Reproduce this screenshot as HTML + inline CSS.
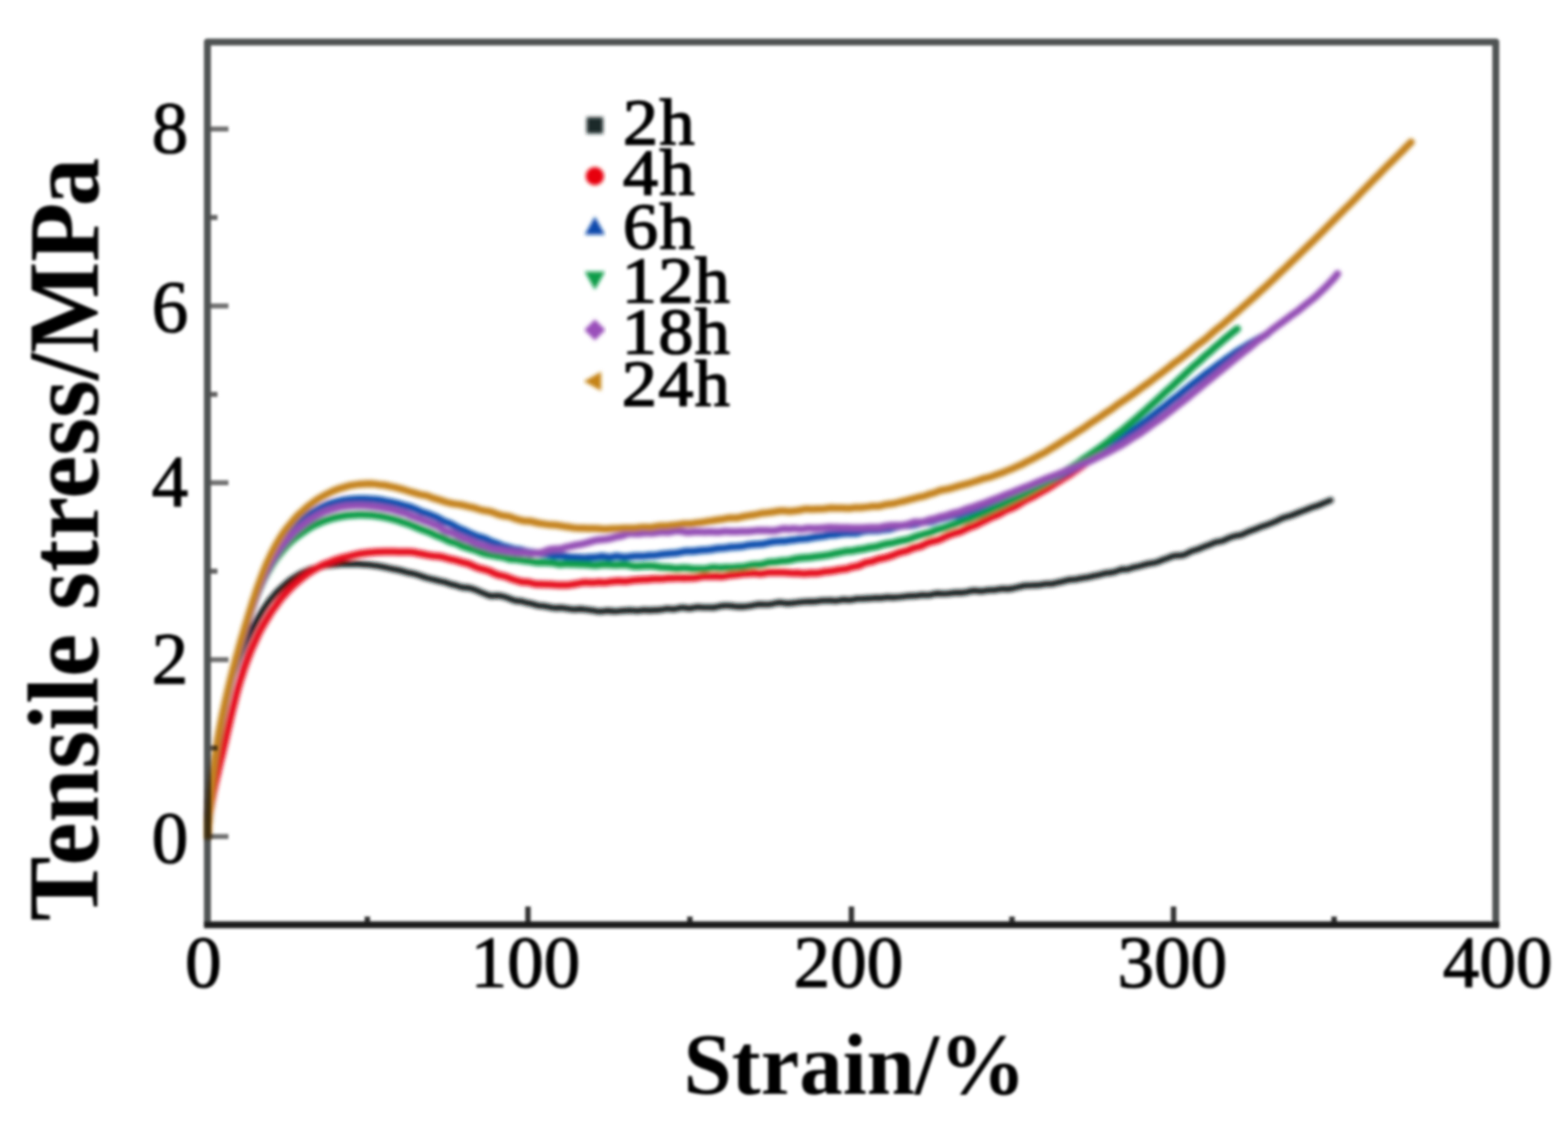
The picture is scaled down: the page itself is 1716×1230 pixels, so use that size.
<!DOCTYPE html>
<html lang="en">
<head>
<meta charset="utf-8">
<title>Tensile stress vs strain</title>
<style>
html,body{margin:0;padding:0;background:#fff;}
body{width:1716px;height:1230px;overflow:hidden;}
svg{display:block;}
text{font-family:"Liberation Serif","DejaVu Serif",serif;fill:#000;}
.b{font-weight:bold;}
</style>
</head>
<body>
<svg width="1716" height="1230" viewBox="0 0 1716 1230">
<defs>
<filter id="bl" x="-5%" y="-5%" width="110%" height="110%"><feGaussianBlur stdDeviation="2.1"/></filter>
<filter id="bt" x="-5%" y="-5%" width="110%" height="110%"><feGaussianBlur stdDeviation="1.4"/></filter>
<filter id="bm" x="-5%" y="-5%" width="110%" height="110%"><feGaussianBlur stdDeviation="2.0"/></filter>
<filter id="bf" x="-5%" y="-5%" width="110%" height="110%"><feGaussianBlur stdDeviation="1.7"/></filter>
</defs>
<rect x="0" y="0" width="1716" height="1230" fill="#ffffff"/>
<g filter="url(#bf)" fill="none" stroke-linecap="butt">
<line x1="227" y1="915.4" x2="250" y2="915.4" stroke="#707070" stroke-width="5.5"/>
<line x1="227" y1="721.9" x2="250" y2="721.9" stroke="#707070" stroke-width="5.5"/>
<line x1="227" y1="528.3" x2="250" y2="528.3" stroke="#707070" stroke-width="5.5"/>
<line x1="227" y1="334.8" x2="250" y2="334.8" stroke="#707070" stroke-width="5.5"/>
<line x1="227" y1="141.2" x2="250" y2="141.2" stroke="#707070" stroke-width="5.5"/>
<line x1="227" y1="818.6" x2="238" y2="818.6" stroke="#606060" stroke-width="5.5"/>
<line x1="227" y1="625.1" x2="238" y2="625.1" stroke="#606060" stroke-width="5.5"/>
<line x1="227" y1="431.6" x2="238" y2="431.6" stroke="#606060" stroke-width="5.5"/>
<line x1="227" y1="238.0" x2="238" y2="238.0" stroke="#606060" stroke-width="5.5"/>
<line x1="577.8" y1="1012" x2="577.8" y2="992" stroke="#333" stroke-width="6"/>
<line x1="931.8" y1="1012" x2="931.8" y2="992" stroke="#333" stroke-width="6"/>
<line x1="1284.3" y1="1012" x2="1284.3" y2="992" stroke="#333" stroke-width="6"/>
<line x1="402" y1="1012" x2="402" y2="1003" stroke="#333" stroke-width="6"/>
<line x1="755" y1="1012" x2="755" y2="1003" stroke="#333" stroke-width="6"/>
<line x1="1107.5" y1="1012" x2="1107.5" y2="1003" stroke="#333" stroke-width="6"/>
<line x1="1460" y1="1012" x2="1460" y2="1003" stroke="#333" stroke-width="6"/>
<path d="M227,1012 L227,46 L1637,46 L1637,1012" stroke="#505252" stroke-width="7.6" stroke-linejoin="round"/>
<line x1="223.2" y1="1012" x2="1640.8" y2="1012" stroke="#1c1c1c" stroke-width="7.4"/>
</g>
<clipPath id="cp"><rect x="224" y="40" width="1420" height="975"/></clipPath>
<g style="mix-blend-mode:multiply" filter="url(#bl)"><g clip-path="url(#cp)" fill="none" stroke-linecap="round" stroke-linejoin="round">
<path d="M227.5,915.0 L227.7,911.1 L228.0,907.2 L228.3,903.3 L228.5,899.2 L228.8,895.1 L229.1,891.0 L229.4,886.9 L229.7,882.8 L230.0,878.8 L230.4,874.9 L230.7,870.9 L231.1,867.0 L231.5,863.1 L231.9,859.1 L232.3,855.1 L232.7,851.1 L233.2,846.9 L233.6,842.9 L234.1,839.0 L234.6,835.0 L235.2,831.0 L235.7,827.1 L236.3,823.2 L236.9,819.2 L237.5,815.2 L238.2,811.3 L238.8,807.2 L239.5,803.3 L240.3,799.3 L241.0,795.5 L241.8,791.5 L242.6,787.7 L243.5,783.7 L244.3,779.6 L245.2,775.7 L246.2,772.0 L247.1,768.2 L248.1,764.4 L249.2,760.4 L250.2,756.5 L251.3,752.6 L252.5,748.7 L253.6,744.9 L254.8,741.2 L256.1,737.3 L257.4,733.6 L258.7,729.9 L260.0,726.0 L261.4,722.1 L262.8,718.3 L264.3,714.6 L265.8,710.7 L267.3,706.9 L268.9,703.3 L270.5,699.8 L272.2,696.1 L273.9,692.5 L275.7,688.9 L277.5,685.4 L279.4,682.0 L281.3,678.4 L283.3,674.9 L285.4,671.5 L287.5,667.9 L289.8,664.5 L292.1,661.2 L294.4,658.0 L296.9,654.9 L299.5,651.9 L302.1,648.9 L304.9,646.0 L307.8,643.3 L310.7,640.8 L313.8,638.0 L317.0,635.3 L320.2,633.1 L323.6,631.0 L327.1,628.9 L330.6,626.9 L334.3,625.2 L338.0,623.7 L341.8,622.4 L345.6,621.5 L349.5,620.5 L353.4,619.5 L357.4,618.8 L361.4,618.4 L365.3,618.0 L369.3,617.6 L373.4,617.3 L377.4,617.3 L381.4,617.2 L385.4,617.2 L389.4,617.1 L393.4,617.3 L397.4,617.6 L401.4,617.8 L405.4,618.2 L409.4,618.8 L413.4,619.3 L417.3,620.0 L421.3,620.7 L425.2,621.6 L429.2,622.5 L433.1,623.2 L437.0,624.0 L440.9,625.0 L444.8,626.2 L448.7,627.0 L452.6,627.8 L456.5,628.9 L460.3,630.2 L464.2,631.5 L468.1,632.6 L472.0,633.6 L475.8,634.5 L479.7,635.5 L483.6,636.4 L487.4,637.2 L491.3,638.6 L495.2,639.8 L499.0,640.6 L502.9,642.0 L506.8,642.9 L510.6,643.1 L514.5,643.6 L518.4,644.7 L522.3,646.3 L526.1,648.0 L530.0,649.5 L533.9,651.2 L537.8,652.2 L541.7,651.9 L545.6,651.7 L549.5,652.4 L553.4,653.5 L557.3,654.9 L561.2,656.5 L565.1,657.6 L569.1,657.8 L573.0,658.6 L576.9,659.7 L580.9,660.3 L584.8,661.5 L588.8,662.7 L592.8,663.0 L596.7,663.4 L600.7,664.2 L604.7,665.0 L608.7,665.4 L612.6,665.1 L616.6,665.3 L620.6,665.9 L624.6,666.6 L628.6,667.1 L632.6,666.6 L636.6,666.4 L640.6,667.0 L644.6,667.5 L648.7,668.0 L652.7,668.8 L656.7,669.3 L660.7,668.8 L664.7,668.2 L668.7,668.6 L672.7,669.0 L676.7,668.7 L680.8,668.3 L684.8,668.1 L688.8,667.8 L692.8,668.0 L696.8,668.5 L700.8,668.1 L704.8,667.5 L708.8,667.9 L712.8,667.9 L716.9,667.5 L720.9,667.6 L724.9,667.1 L728.9,666.1 L732.9,666.3 L736.9,666.7 L740.9,665.9 L744.9,665.0 L748.9,664.9 L752.9,665.7 L756.9,665.6 L760.9,664.5 L765.0,664.3 L769.0,664.8 L773.0,664.8 L777.0,664.8 L781.0,664.9 L785.0,664.1 L789.0,663.1 L793.0,662.7 L797.0,662.7 L801.0,663.1 L805.0,663.7 L809.0,663.9 L813.0,663.9 L817.1,663.5 L821.1,663.0 L825.1,662.3 L829.1,661.4 L833.1,661.2 L837.1,661.5 L841.1,661.5 L845.1,660.9 L849.1,659.9 L853.1,659.3 L857.1,659.7 L861.1,660.4 L865.1,660.1 L869.1,659.7 L873.2,659.3 L877.2,658.8 L881.2,658.5 L885.2,658.3 L889.2,658.4 L893.2,658.2 L897.2,657.5 L901.2,657.3 L905.2,657.2 L909.2,657.1 L913.2,657.6 L917.2,657.3 L921.2,656.4 L925.3,656.4 L929.3,656.8 L933.3,656.2 L937.3,655.3 L941.3,655.2 L945.3,655.1 L949.3,654.9 L953.3,654.8 L957.3,654.3 L961.3,654.4 L965.3,654.4 L969.3,653.6 L973.3,653.5 L977.3,653.9 L981.4,653.5 L985.4,653.2 L989.4,652.8 L993.4,652.3 L997.4,652.1 L1001.4,652.0 L1005.4,651.6 L1009.4,651.0 L1013.4,651.2 L1017.4,651.2 L1021.4,650.1 L1025.4,649.4 L1029.4,649.6 L1033.4,649.7 L1037.4,649.5 L1041.4,649.1 L1045.4,648.6 L1049.4,648.6 L1053.4,648.6 L1057.4,648.1 L1061.4,647.0 L1065.4,646.3 L1069.4,646.6 L1073.4,647.1 L1077.4,646.6 L1081.4,645.7 L1085.4,645.7 L1089.4,645.6 L1093.4,644.7 L1097.4,644.3 L1101.4,644.6 L1105.4,644.4 L1109.4,643.6 L1113.4,642.6 L1117.4,641.7 L1121.4,640.8 L1125.3,640.7 L1129.3,640.5 L1133.3,640.4 L1137.3,640.3 L1141.3,639.6 L1145.2,639.0 L1149.2,639.0 L1153.2,638.6 L1157.2,637.4 L1161.1,636.7 L1165.1,635.7 L1169.1,634.6 L1173.0,634.3 L1177.0,634.1 L1180.9,633.3 L1184.9,632.5 L1188.8,631.9 L1192.8,631.2 L1196.7,630.2 L1200.7,629.5 L1204.6,628.7 L1208.6,627.5 L1212.5,626.9 L1216.4,626.6 L1220.3,625.8 L1224.3,624.2 L1228.2,622.9 L1232.1,623.2 L1236.0,622.5 L1239.9,620.9 L1243.8,620.3 L1247.7,619.4 L1251.6,618.2 L1255.5,617.3 L1259.3,616.4 L1263.2,615.9 L1267.1,614.9 L1270.9,613.2 L1274.8,611.9 L1278.7,610.5 L1282.5,608.9 L1286.4,608.0 L1290.2,607.9 L1294.0,607.7 L1297.9,606.3 L1301.7,604.2 L1305.5,602.6 L1309.4,601.6 L1313.2,600.2 L1317.0,598.5 L1320.8,597.1 L1324.6,595.8 L1328.4,594.1 L1332.2,592.8 L1336.0,592.5 L1339.8,591.2 L1343.6,589.3 L1347.4,587.8 L1351.2,586.5 L1354.9,585.9 L1358.7,585.3 L1362.5,583.6 L1366.3,581.8 L1370.0,580.4 L1373.8,579.1 L1377.6,577.5 L1381.3,576.0 L1385.1,574.9 L1388.8,573.5 L1392.6,572.0 L1396.3,570.5 L1400.1,568.6 L1403.8,566.8 L1407.6,565.6 L1411.3,564.7 L1415.1,563.4 L1418.8,561.9 L1422.6,560.4 L1426.3,559.0 L1430.0,557.6 L1433.8,556.0 L1437.5,554.7 L1441.2,553.6 L1445.0,552.2 L1448.7,550.5 L1452.5,549.0 L1456.2,547.5" stroke="#0c1616" stroke-width="6.6"/>
<path d="M227.5,915.0 L227.6,910.9 L227.8,906.9 L228.1,902.9 L228.5,899.0 L228.9,895.0 L229.4,890.9 L229.9,887.0 L230.5,883.1 L231.2,879.2 L231.9,875.2 L232.6,871.1 L233.4,867.1 L234.2,863.2 L235.0,859.4 L235.9,855.5 L236.7,851.6 L237.7,847.7 L238.6,843.7 L239.5,839.6 L240.5,835.6 L241.4,831.7 L242.4,827.9 L243.3,824.2 L244.3,820.2 L245.2,816.2 L246.2,812.2 L247.1,808.3 L248.0,804.3 L248.9,800.4 L249.8,796.6 L250.7,792.7 L251.6,788.8 L252.5,784.9 L253.4,780.9 L254.4,777.0 L255.3,773.2 L256.3,769.4 L257.3,765.4 L258.3,761.3 L259.3,757.3 L260.4,753.4 L261.5,749.7 L262.6,745.9 L263.8,742.1 L265.0,738.4 L266.2,734.6 L267.5,730.7 L268.9,726.9 L270.3,723.0 L271.7,719.3 L273.2,715.5 L274.7,711.7 L276.3,708.1 L277.9,704.6 L279.6,700.9 L281.3,697.2 L283.1,693.4 L284.9,689.8 L286.8,686.3 L288.8,682.9 L290.8,679.5 L292.9,676.1 L295.0,672.6 L297.2,669.2 L299.5,666.0 L301.9,662.8 L304.3,659.4 L306.8,656.1 L309.3,653.0 L312.0,650.0 L314.7,647.0 L317.5,644.1 L320.3,641.3 L323.3,638.7 L326.3,636.1 L329.4,633.4 L332.6,630.9 L335.8,628.5 L339.1,626.2 L342.5,624.1 L346.0,622.1 L349.5,620.1 L353.1,618.3 L356.8,616.8 L360.5,615.4 L364.2,613.9 L368.0,612.6 L371.9,611.3 L375.7,610.2 L379.6,609.3 L383.5,608.3 L387.5,607.3 L391.4,606.5 L395.4,605.8 L399.4,605.2 L403.4,604.8 L407.4,604.4 L411.4,604.1 L415.4,603.9 L419.4,603.8 L423.4,603.8 L427.5,603.8 L431.5,603.7 L435.5,603.9 L439.5,604.0 L443.6,604.0 L447.6,604.0 L451.6,604.2 L455.6,605.0 L459.6,605.8 L463.6,606.5 L467.5,607.4 L471.5,608.0 L475.5,608.4 L479.4,608.7 L483.4,609.3 L487.3,610.4 L491.2,611.5 L495.1,612.3 L499.0,613.2 L502.9,614.4 L506.7,615.5 L510.6,616.3 L514.4,617.6 L518.2,619.4 L522.0,621.0 L525.8,622.2 L529.6,623.2 L533.4,624.2 L537.2,625.6 L541.0,627.6 L544.8,629.0 L548.6,629.9 L552.4,630.7 L556.3,632.0 L560.1,633.6 L564.0,634.8 L567.9,636.0 L571.8,636.9 L575.8,636.9 L579.7,637.5 L583.7,638.7 L587.7,639.2 L591.7,639.2 L595.7,639.4 L599.7,639.5 L603.8,639.7 L607.8,640.0 L611.8,640.2 L615.8,640.3 L619.9,640.3 L623.9,639.9 L627.9,639.2 L631.9,638.7 L635.9,637.9 L639.9,637.3 L643.9,637.4 L648.0,637.8 L652.0,637.4 L656.0,637.0 L660.0,637.4 L664.0,637.3 L668.0,636.6 L672.0,636.2 L676.1,635.8 L680.1,635.9 L684.1,636.2 L688.1,635.7 L692.1,635.1 L696.2,634.8 L700.2,634.4 L704.2,634.3 L708.2,634.2 L712.2,633.7 L716.2,633.4 L720.3,633.6 L724.3,633.6 L728.3,633.1 L732.3,632.8 L736.3,632.8 L740.4,632.5 L744.4,632.5 L748.4,632.8 L752.4,632.6 L756.4,632.4 L760.4,632.3 L764.5,631.7 L768.5,630.8 L772.5,630.5 L776.5,630.8 L780.5,630.8 L784.5,630.6 L788.6,630.9 L792.6,630.7 L796.6,629.9 L800.6,629.2 L804.6,629.0 L808.6,628.6 L812.6,627.8 L816.6,627.7 L820.7,627.4 L824.7,627.0 L828.7,627.5 L832.7,627.9 L836.7,627.3 L840.7,626.4 L844.8,626.5 L848.8,626.6 L852.8,626.4 L856.8,626.4 L860.8,626.7 L864.9,627.1 L868.9,627.3 L872.9,627.1 L876.9,627.5 L880.9,627.8 L885.0,627.3 L889.0,627.1 L893.0,627.3 L897.0,626.8 L901.0,625.8 L905.0,625.4 L909.0,625.1 L912.9,624.5 L916.9,623.7 L920.8,623.1 L924.7,622.8 L928.5,621.8 L932.4,620.5 L936.3,619.9 L940.2,619.0 L944.1,617.2 L947.9,615.5 L951.8,614.9 L955.7,614.0 L959.5,612.4 L963.4,611.3 L967.2,610.7 L971.1,609.7 L974.9,608.4 L978.8,606.9 L982.6,605.4 L986.5,604.2 L990.3,603.4 L994.1,602.2 L997.9,600.4 L1001.8,599.1 L1005.6,598.4 L1009.4,597.1 L1013.2,595.0 L1017.0,593.3 L1020.8,592.5 L1024.5,591.7 L1028.3,590.5 L1032.1,588.7 L1035.9,586.7 L1039.6,585.3 L1043.4,583.9 L1047.1,582.8 L1050.8,582.0 L1054.6,580.2 L1058.3,578.2 L1062.0,576.7 L1065.7,575.5 L1069.4,574.0 L1073.1,572.0 L1076.8,570.1 L1080.5,568.3 L1084.1,566.5 L1087.8,565.1 L1091.4,563.7 L1095.1,561.9 L1098.7,559.7 L1102.3,557.8 L1105.9,556.4 L1109.5,555.0 L1113.1,553.2 L1116.6,550.9 L1120.2,548.6 L1123.7,546.7 L1127.3,545.0 L1130.8,543.3 L1134.3,541.3 L1137.8,539.2 L1141.3,537.3 L1144.8,535.5 L1148.2,533.3 L1151.7,531.2 L1155.1,529.0 L1158.5,526.8 L1161.9,524.6 L1165.3,522.6 L1168.6,520.6 L1172.0,518.4 L1175.3,516.0 L1178.7,513.8 L1182.0,511.5 L1185.2,509.2 L1188.5,506.8 L1191.8,504.4 L1195.0,502.0" stroke="#e6101f" stroke-width="8"/>
<path d="M227.5,915.0 L227.6,911.1 L227.7,907.1 L227.8,903.1 L228.0,899.0 L228.2,894.9 L228.5,890.7 L228.7,886.7 L229.0,882.9 L229.3,878.9 L229.7,874.9 L230.0,870.8 L230.4,866.7 L230.8,862.8 L231.3,858.9 L231.7,855.0 L232.2,851.1 L232.8,847.0 L233.3,843.0 L233.8,839.0 L234.4,835.0 L235.0,831.0 L235.6,826.9 L236.3,823.0 L237.0,819.0 L237.6,815.0 L238.3,811.1 L239.1,807.2 L239.8,803.2 L240.6,799.2 L241.3,795.3 L242.1,791.4 L243.0,787.3 L243.8,783.4 L244.6,779.5 L245.5,775.7 L246.4,771.7 L247.3,767.8 L248.2,764.0 L249.1,760.2 L250.1,756.2 L251.0,752.2 L252.0,748.4 L253.0,744.5 L254.0,740.6 L255.0,736.7 L256.0,732.6 L257.0,728.7 L258.1,724.9 L259.1,721.1 L260.2,717.2 L261.3,713.4 L262.4,709.5 L263.5,705.6 L264.5,701.9 L265.7,698.1 L266.8,694.2 L267.9,690.3 L269.0,686.5 L270.1,682.7 L271.3,678.7 L272.4,674.7 L273.6,670.9 L274.8,666.9 L276.0,663.0 L277.2,659.2 L278.5,655.6 L279.8,651.7 L281.2,647.8 L282.5,643.9 L284.0,640.3 L285.4,636.7 L287.0,633.0 L288.6,629.4 L290.2,625.7 L291.9,622.1 L293.7,618.4 L295.5,614.7 L297.4,611.1 L299.4,607.7 L301.4,604.4 L303.6,601.0 L305.8,597.6 L308.1,594.3 L310.5,591.0 L312.9,587.7 L315.5,584.6 L318.1,581.7 L320.8,578.7 L323.6,575.7 L326.5,573.0 L329.5,570.3 L332.6,567.7 L335.7,565.3 L339.0,562.9 L342.3,560.6 L345.8,558.6 L349.3,556.6 L352.9,554.7 L356.5,553.0 L360.3,551.5 L364.1,550.3 L368.0,549.3 L371.9,548.3 L375.8,547.5 L379.8,546.9 L383.8,546.5 L387.8,546.2 L391.8,546.0 L395.8,545.9 L399.8,546.1 L403.8,546.3 L407.8,546.5 L411.8,546.8 L415.8,547.3 L419.8,548.0 L423.8,548.8 L427.7,549.5 L431.6,550.3 L435.5,551.2 L439.4,552.4 L443.3,553.5 L447.1,554.4 L450.9,555.6 L454.7,557.2 L458.5,558.9 L462.2,560.6 L466.0,561.7 L469.7,562.9 L473.4,564.4 L477.0,565.7 L480.7,567.7 L484.4,570.0 L488.0,571.5 L491.7,572.6 L495.3,574.3 L498.9,576.5 L502.6,578.5 L506.2,580.0 L509.9,581.5 L513.6,583.3 L517.2,584.9 L520.9,586.4 L524.6,587.7 L528.3,588.7 L532.1,590.1 L535.8,592.1 L539.6,593.5 L543.4,594.7 L547.3,596.4 L551.1,597.9 L555.0,598.9 L558.9,599.9 L562.8,601.0 L566.7,601.6 L570.6,602.0 L574.5,603.2 L578.5,604.2 L582.4,604.5 L586.4,605.1 L590.4,605.7 L594.3,606.0 L598.3,606.6 L602.3,607.4 L606.3,608.1 L610.3,608.2 L614.3,608.2 L618.3,608.7 L622.4,609.4 L626.4,609.9 L630.4,610.1 L634.4,610.3 L638.4,610.5 L642.4,610.3 L646.5,609.9 L650.5,609.8 L654.5,609.4 L658.5,608.8 L662.5,609.3 L666.6,610.1 L670.6,609.3 L674.6,608.5 L678.6,609.1 L682.6,609.7 L686.6,609.4 L690.7,608.9 L694.7,608.6 L698.7,608.5 L702.7,608.6 L706.7,608.3 L710.7,607.8 L714.7,607.7 L718.7,607.4 L722.7,606.7 L726.7,606.3 L730.8,605.9 L734.8,605.6 L738.8,605.4 L742.8,604.8 L746.8,603.9 L750.8,603.2 L754.8,603.2 L758.8,603.3 L762.8,602.8 L766.8,602.3 L770.8,602.0 L774.8,601.8 L778.8,601.3 L782.8,600.5 L786.7,600.0 L790.7,599.8 L794.7,599.4 L798.7,598.8 L802.7,598.4 L806.7,598.3 L810.7,598.1 L814.7,597.3 L818.7,596.4 L822.7,596.1 L826.7,595.7 L830.7,595.6 L834.7,595.3 L838.7,594.4 L842.6,593.5 L846.6,592.8 L850.6,592.4 L854.6,592.3 L858.6,592.3 L862.6,591.6 L866.6,591.0 L870.6,590.7 L874.6,589.9 L878.6,589.7 L882.6,589.5 L886.6,588.8 L890.6,588.0 L894.6,587.5 L898.6,587.1 L902.5,586.5 L906.5,585.5 L910.5,585.3 L914.5,585.2 L918.5,584.4 L922.5,583.7 L926.5,583.5 L930.5,583.3 L934.5,583.4 L938.5,583.2 L942.5,582.0 L946.5,580.9 L950.5,580.5 L954.4,580.3 L958.4,580.4 L962.4,580.2 L966.4,579.6 L970.4,579.3 L974.4,578.7 L978.3,577.5 L982.3,576.4 L986.3,575.6 L990.2,575.1 L994.2,574.9 L998.2,574.5 L1002.1,573.9 L1006.1,572.7 L1010.0,571.4 L1014.0,571.2 L1017.9,571.1 L1021.9,570.1 L1025.8,568.6 L1029.7,567.5 L1033.7,566.7 L1037.6,565.6 L1041.5,564.4 L1045.4,564.1 L1049.3,563.8 L1053.2,562.3 L1057.1,560.8 L1061.0,559.9 L1064.8,559.1 L1068.7,558.3 L1072.5,557.1 L1076.4,555.8 L1080.2,554.4 L1084.0,553.0 L1087.8,551.6 L1091.6,550.3 L1095.4,549.2 L1099.2,547.8 L1103.0,546.3 L1106.7,544.9 L1110.5,543.4 L1114.2,541.8 L1117.9,540.2 L1121.6,538.8 L1125.3,537.3 L1129.0,535.7 L1132.7,534.1 L1136.3,532.5 L1140.0,530.7 L1143.6,528.9 L1147.2,527.0 L1150.9,525.4 L1154.5,523.8 L1158.0,522.0 L1161.6,520.1 L1165.2,518.1 L1168.7,516.3 L1172.3,514.5 L1175.8,512.6 L1179.3,510.6 L1182.8,508.5 L1186.3,506.3 L1189.7,504.2 L1193.2,502.2 L1196.6,500.0 L1200.1,497.9 L1203.5,496.1 L1206.9,494.0 L1210.2,491.8 L1213.6,489.5 L1217.0,487.3 L1220.3,485.1 L1223.6,482.8 L1226.9,480.5 L1230.2,478.1 L1233.5,475.7 L1236.8,473.5 L1240.0,471.2 L1243.3,468.9 L1246.5,466.5 L1249.7,463.9 L1252.9,461.6 L1256.1,459.1 L1259.3,456.5 L1262.4,454.1 L1265.6,451.5 L1268.8,449.0 L1271.9,446.6 L1275.1,444.2 L1278.2,441.6 L1281.4,439.0 L1284.5,436.6 L1287.7,434.3 L1290.8,431.8 L1294.0,429.2 L1297.1,426.6 L1300.3,424.1 L1303.4,421.7 L1306.6,419.1 L1309.8,416.7 L1312.9,414.4 L1316.1,411.8 L1319.3,409.3 L1322.5,407.0 L1325.8,404.7 L1329.0,402.3 L1332.2,399.9 L1335.5,397.6 L1338.8,395.2 L1342.1,392.7 L1345.4,390.6 L1348.7,388.3 L1352.1,385.8 L1355.4,383.6 L1358.8,381.6 L1362.2,379.6 L1365.7,377.5 L1369.1,375.5 L1372.6,373.4 L1376.1,371.5 L1379.6,369.6 L1383.1,367.7 L1386.7,365.7" stroke="#0f4fae" stroke-width="8"/>
<path d="M227.5,915.0 L227.6,910.9 L227.8,906.7 L228.0,902.6 L228.2,898.8 L228.5,895.0 L228.7,891.0 L229.0,887.0 L229.3,883.0 L229.6,879.0 L230.0,875.0 L230.3,871.0 L230.7,867.0 L231.1,863.1 L231.6,859.0 L232.0,854.9 L232.5,850.9 L233.0,846.9 L233.6,842.8 L234.1,838.9 L234.7,835.1 L235.2,831.1 L235.9,827.1 L236.5,823.1 L237.1,819.2 L237.8,815.2 L238.5,811.2 L239.2,807.1 L239.9,803.2 L240.7,799.3 L241.4,795.4 L242.2,791.4 L243.0,787.4 L243.8,783.5 L244.6,779.6 L245.5,775.8 L246.4,771.9 L247.2,767.9 L248.1,764.0 L249.1,760.1 L250.0,756.2 L250.9,752.4 L251.9,748.4 L252.9,744.4 L253.9,740.5 L254.9,736.6 L255.9,732.8 L257.0,729.0 L258.0,725.2 L259.1,721.2 L260.2,717.2 L261.2,713.4 L262.4,709.6 L263.5,705.7 L264.6,701.8 L265.7,698.0 L266.9,694.1 L268.1,690.1 L269.2,686.3 L270.4,682.5 L271.6,678.6 L272.8,674.8 L274.1,671.1 L275.3,667.3 L276.7,663.5 L278.0,659.7 L279.4,655.9 L280.8,652.1 L282.3,648.4 L283.8,644.8 L285.4,641.1 L287.1,637.4 L288.8,633.7 L290.6,630.1 L292.5,626.5 L294.5,623.1 L296.5,619.7 L298.7,616.2 L300.9,612.9 L303.2,609.7 L305.7,606.6 L308.2,603.5 L310.9,600.2 L313.6,597.2 L316.4,594.4 L319.4,591.6 L322.4,589.0 L325.5,586.6 L328.7,584.3 L332.0,581.9 L335.4,579.6 L338.8,577.4 L342.4,575.5 L345.9,573.7 L349.6,572.2 L353.3,570.6 L357.1,569.2 L360.9,568.0 L364.7,566.9 L368.7,566.0 L372.6,565.2 L376.6,564.5 L380.5,564.0 L384.5,563.7 L388.5,563.5 L392.6,563.3 L396.6,563.3 L400.6,563.4 L404.6,563.5 L408.6,563.9 L412.6,564.5 L416.6,565.0 L420.5,565.8 L424.4,566.7 L428.4,567.6 L432.2,568.6 L436.1,569.8 L439.9,571.1 L443.7,572.3 L447.5,573.6 L451.3,575.1 L455.1,576.7 L458.8,578.2 L462.5,579.7 L466.2,581.0 L469.9,582.4 L473.6,584.2 L477.3,585.9 L481.0,587.2 L484.7,588.7 L488.4,590.6 L492.1,592.4 L495.8,593.4 L499.5,594.5 L503.3,596.3 L507.0,598.0 L510.8,599.2 L514.6,600.3 L518.4,601.3 L522.3,602.8 L526.1,604.4 L530.0,605.6 L533.9,606.6 L537.8,607.4 L541.7,608.1 L545.6,608.8 L549.6,609.3 L553.5,610.3 L557.5,611.7 L561.4,612.1 L565.4,612.1 L569.4,612.9 L573.4,613.4 L577.4,613.7 L581.4,614.4 L585.3,615.2 L589.4,615.5 L593.4,615.2 L597.4,615.5 L601.4,615.7 L605.4,615.9 L609.4,617.0 L613.4,617.5 L617.4,617.1 L621.4,617.1 L625.5,617.3 L629.5,617.3 L633.5,617.4 L637.5,617.6 L641.5,617.7 L645.5,618.1 L649.6,618.6 L653.6,618.5 L657.6,617.8 L661.6,617.6 L665.6,617.7 L669.6,618.1 L673.7,618.3 L677.7,618.0 L681.7,617.7 L685.7,617.9 L689.7,618.9 L693.7,619.7 L697.8,619.8 L701.8,619.5 L705.8,619.2 L709.8,619.3 L713.8,619.2 L717.8,619.7 L721.8,620.5 L725.8,620.8 L729.9,620.9 L733.9,621.3 L737.9,621.9 L741.9,622.0 L745.9,621.6 L749.9,621.4 L753.9,621.8 L758.0,622.5 L762.0,622.6 L766.0,622.6 L770.0,622.8 L774.0,622.2 L778.1,621.2 L782.1,620.9 L786.1,621.4 L790.1,621.5 L794.1,621.1 L798.1,621.2 L802.1,621.1 L806.1,620.6 L810.1,620.4 L814.1,620.2 L818.1,619.3 L822.1,618.4 L826.1,618.1 L830.1,618.0 L834.1,617.6 L838.0,616.3 L842.0,615.2 L846.0,615.1 L850.0,614.7 L853.9,614.1 L857.9,613.7 L861.9,613.4 L865.9,612.7 L869.9,611.7 L873.8,610.9 L877.8,610.6 L881.8,610.3 L885.8,610.1 L889.8,609.5 L893.7,608.9 L897.7,608.6 L901.7,608.0 L905.7,607.4 L909.7,606.7 L913.6,605.7 L917.6,605.0 L921.6,604.2 L925.5,603.3 L929.5,603.0 L933.5,602.7 L937.4,601.8 L941.4,601.2 L945.3,600.8 L949.3,599.7 L953.2,599.0 L957.2,598.6 L961.1,597.6 L965.0,596.3 L969.0,595.3 L972.9,594.7 L976.8,594.1 L980.7,593.2 L984.6,592.1 L988.5,591.4 L992.4,590.7 L996.3,589.5 L1000.1,588.0 L1004.0,586.6 L1007.9,585.5 L1011.7,584.3 L1015.6,583.5 L1019.4,582.2 L1023.3,580.5 L1027.1,579.2 L1030.9,578.3 L1034.7,577.2 L1038.5,575.7 L1042.3,574.4 L1046.1,573.1 L1049.9,571.7 L1053.7,570.5 L1057.4,569.4 L1061.2,568.1 L1064.9,566.5 L1068.7,564.9 L1072.4,563.6 L1076.1,562.1 L1079.8,560.3 L1083.5,558.7 L1087.2,556.9 L1090.9,555.2 L1094.5,553.7 L1098.2,552.2 L1101.8,550.4 L1105.5,548.7 L1109.1,546.9 L1112.7,545.1 L1116.3,543.4 L1119.9,541.7 L1123.5,539.9 L1127.0,537.9 L1130.6,536.1 L1134.1,534.1 L1137.7,532.1 L1141.2,530.3 L1144.7,528.4 L1148.2,526.4 L1151.6,524.3 L1155.1,522.1 L1158.5,520.0 L1162.0,518.0 L1165.4,515.9 L1168.8,513.7 L1172.2,511.6 L1175.6,509.5 L1178.9,507.4 L1182.3,505.0 L1185.6,502.6 L1188.9,500.3 L1192.3,498.1 L1195.5,495.9 L1198.8,493.6 L1202.1,491.2 L1205.3,488.9 L1208.5,486.6 L1211.7,484.1 L1214.9,481.5 L1218.1,478.9 L1221.2,476.5 L1224.4,474.0 L1227.5,471.6 L1230.6,469.0 L1233.7,466.4 L1236.8,463.8 L1239.8,461.1 L1242.9,458.6 L1245.9,456.0 L1248.9,453.3 L1251.9,450.6 L1254.9,448.0 L1257.9,445.2 L1260.9,442.6 L1263.9,439.9 L1266.8,437.2 L1269.8,434.5 L1272.8,431.7 L1275.7,428.9 L1278.7,426.2 L1281.6,423.7 L1284.6,421.0 L1287.5,418.2 L1290.4,415.5 L1293.4,412.8 L1296.3,410.0 L1299.3,407.1 L1302.3,404.3 L1305.2,401.6 L1308.2,399.0 L1311.2,396.5 L1314.2,393.8 L1317.1,391.0 L1320.1,388.3 L1323.2,385.8 L1326.2,383.2 L1329.2,380.4 L1332.3,377.8 L1335.3,375.2 L1338.4,372.5 L1341.5,369.9 L1344.6,367.4 L1347.7,364.8 L1350.8,362.3 L1354.0,359.9" stroke="#0a9c48" stroke-width="8"/>
<path d="M227.5,915.0 L227.6,910.8 L227.7,906.9 L227.9,903.1 L228.0,899.1 L228.2,895.1 L228.5,891.1 L228.7,887.0 L229.0,882.9 L229.3,879.0 L229.6,875.0 L230.0,870.9 L230.4,866.9 L230.8,863.0 L231.2,859.0 L231.7,854.9 L232.2,850.8 L232.7,846.9 L233.2,843.1 L233.8,839.1 L234.4,835.2 L235.0,831.3 L235.6,827.4 L236.2,823.4 L236.9,819.3 L237.6,815.3 L238.3,811.3 L239.0,807.3 L239.8,803.3 L240.5,799.5 L241.3,795.6 L242.1,791.6 L243.0,787.6 L243.8,783.6 L244.6,779.8 L245.5,776.0 L246.4,772.1 L247.3,768.0 L248.2,764.1 L249.2,760.2 L250.1,756.2 L251.1,752.3 L252.1,748.5 L253.1,744.7 L254.1,740.8 L255.1,737.0 L256.1,733.0 L257.2,729.1 L258.2,725.3 L259.3,721.5 L260.3,717.6 L261.4,713.7 L262.5,709.9 L263.6,706.0 L264.7,702.2 L265.8,698.3 L267.0,694.5 L268.1,690.7 L269.3,686.7 L270.4,682.8 L271.6,678.9 L272.7,675.1 L273.9,671.2 L275.1,667.4 L276.4,663.7 L277.7,660.0 L279.0,656.0 L280.3,652.0 L281.7,648.3 L283.1,644.6 L284.6,640.9 L286.2,637.3 L287.8,633.8 L289.4,630.0 L291.1,626.3 L292.9,622.8 L294.8,619.2 L296.7,615.7 L298.8,612.2 L300.9,608.8 L303.1,605.4 L305.3,601.9 L307.7,598.7 L310.2,595.8 L312.7,592.7 L315.3,589.5 L318.1,586.5 L320.9,583.6 L323.8,580.9 L326.7,578.3 L329.8,575.8 L333.0,573.4 L336.2,570.9 L339.5,568.6 L342.9,566.6 L346.4,564.6 L350.0,562.6 L353.6,560.9 L357.3,559.4 L361.1,558.1 L365.0,557.0 L368.8,555.9 L372.8,554.9 L376.7,554.2 L380.7,553.7 L384.7,553.4 L388.7,553.3 L392.7,553.2 L396.7,553.2 L400.7,553.4 L404.7,553.8 L408.7,554.2 L412.7,554.7 L416.7,555.3 L420.6,556.0 L424.6,556.7 L428.5,557.5 L432.4,558.6 L436.2,559.8 L440.1,560.9 L443.9,561.9 L447.7,563.5 L451.5,565.2 L455.3,566.5 L459.0,567.9 L462.7,569.4 L466.4,570.7 L470.1,572.1 L473.8,573.7 L477.4,575.1 L481.1,576.9 L484.7,579.5 L488.4,581.3 L492.0,582.4 L495.7,583.7 L499.4,585.4 L503.0,587.3 L506.7,588.9 L510.4,590.2 L514.1,591.5 L517.9,593.5 L521.6,595.4 L525.4,596.4 L529.2,597.5 L533.1,598.8 L536.9,600.2 L540.8,601.2 L544.7,601.6 L548.7,602.2 L552.6,603.1 L556.6,603.6 L560.6,604.0 L564.6,604.7 L568.6,604.9 L572.6,604.7 L576.6,605.3 L580.6,606.0 L584.6,605.5 L588.6,605.0 L592.6,604.8 L596.6,603.3 L600.6,601.6 L604.5,600.9 L608.5,600.7 L612.4,600.7 L616.3,599.9 L620.2,598.6 L624.2,597.9 L628.1,597.0 L632.0,596.2 L635.9,595.6 L639.8,594.6 L643.7,593.6 L647.6,592.4 L651.5,591.4 L655.4,590.8 L659.3,590.4 L663.3,590.0 L667.2,589.5 L671.1,588.4 L675.1,587.4 L679.1,586.8 L683.0,585.6 L687.0,584.1 L691.0,583.6 L695.0,584.1 L699.0,584.1 L703.0,583.6 L707.0,583.1 L711.0,583.2 L715.0,583.4 L719.0,582.8 L723.0,582.0 L727.0,582.3 L731.1,582.5 L735.1,581.8 L739.1,580.9 L743.1,580.9 L747.1,581.7 L751.1,582.5 L755.1,582.5 L759.2,582.0 L763.2,581.9 L767.2,582.1 L771.2,582.2 L775.2,582.1 L779.2,582.0 L783.2,582.3 L787.3,582.3 L791.3,581.6 L795.3,581.5 L799.3,581.7 L803.3,581.8 L807.3,581.7 L811.3,581.6 L815.3,581.6 L819.4,581.5 L823.4,581.1 L827.4,580.6 L831.4,580.6 L835.4,580.5 L839.4,580.5 L843.4,580.8 L847.4,580.7 L851.4,580.0 L855.4,578.8 L859.5,578.6 L863.5,578.9 L867.5,578.5 L871.5,578.6 L875.5,579.1 L879.5,578.7 L883.5,578.0 L887.5,578.1 L891.5,578.2 L895.6,577.9 L899.6,577.7 L903.6,577.4 L907.6,577.1 L911.6,577.2 L915.6,577.3 L919.6,577.6 L923.7,577.6 L927.7,577.5 L931.7,577.7 L935.7,577.8 L939.7,577.7 L943.7,577.7 L947.8,577.4 L951.8,577.2 L955.8,577.2 L959.8,577.3 L963.8,576.9 L967.8,576.0 L971.8,575.5 L975.8,575.1 L979.8,575.1 L983.8,575.0 L987.8,574.7 L991.7,574.3 L995.7,573.1 L999.7,571.5 L1003.6,571.3 L1007.5,571.7 L1011.5,571.0 L1015.4,569.4 L1019.3,568.3 L1023.2,567.6 L1027.1,566.2 L1031.0,565.2 L1034.8,564.4 L1038.7,563.1 L1042.5,561.7 L1046.4,560.8 L1050.2,559.9 L1054.0,558.4 L1057.9,556.9 L1061.7,555.8 L1065.5,554.7 L1069.2,553.3 L1073.0,551.9 L1076.8,550.7 L1080.6,549.2 L1084.3,547.7 L1088.1,546.4 L1091.8,545.0 L1095.6,543.5 L1099.3,541.9 L1103.0,540.5 L1106.8,539.2 L1110.5,537.7 L1114.2,536.2 L1118.0,534.7 L1121.7,533.3 L1125.4,531.9 L1129.1,530.4 L1132.9,528.8 L1136.6,527.2 L1140.3,525.7 L1144.1,524.1 L1147.8,522.7 L1151.6,521.3 L1155.3,519.9 L1159.0,518.5 L1162.8,516.9 L1166.5,515.3 L1170.2,513.8 L1173.9,512.4 L1177.6,510.9 L1181.3,509.4 L1185.0,507.8 L1188.7,506.3 L1192.4,504.7 L1196.1,503.0 L1199.7,501.2 L1203.3,499.4 L1206.9,497.7 L1210.5,496.0 L1214.1,494.0 L1217.7,492.1 L1221.2,490.3 L1224.7,488.5 L1228.2,486.5 L1231.6,484.3 L1235.0,482.1 L1238.4,479.9 L1241.8,477.9 L1245.2,475.9 L1248.5,473.6 L1251.9,471.2 L1255.2,468.9 L1258.4,466.6 L1261.7,464.1 L1265.0,461.8 L1268.2,459.6 L1271.4,457.3 L1274.6,454.8 L1277.8,452.4 L1281.0,449.9 L1284.2,447.4 L1287.3,444.9 L1290.5,442.4 L1293.6,440.0 L1296.7,437.6 L1299.9,435.1 L1303.0,432.5 L1306.1,430.0 L1309.2,427.5 L1312.4,424.9 L1315.5,422.3 L1318.6,419.7 L1321.7,417.2 L1324.8,414.8 L1327.9,412.2 L1331.0,409.7 L1334.1,407.2 L1337.2,404.7 L1340.3,402.0 L1343.5,399.5 L1346.6,397.0 L1349.7,394.5 L1352.8,392.0 L1355.9,389.4 L1359.1,386.8 L1362.2,384.4 L1365.3,382.0 L1368.5,379.5 L1371.6,376.9 L1374.8,374.2 L1377.9,371.7 L1381.1,369.4 L1384.3,367.1 L1387.5,364.6 L1390.7,362.0 L1393.9,359.5 L1397.1,357.1 L1400.3,354.7 L1403.5,352.4 L1406.7,350.1 L1410.0,347.7 L1413.2,345.2 L1416.4,342.9 L1419.6,340.7 L1422.8,338.3 L1426.0,335.6 L1429.2,333.0 L1432.3,330.6 L1435.4,328.2 L1438.5,325.7 L1441.5,323.0 L1444.5,320.2 L1447.4,317.4 L1450.3,314.6 L1453.1,311.7 L1455.9,308.8 L1458.6,305.9 L1461.2,303.0 L1463.7,299.7" stroke="#9450b5" stroke-width="8"/>
<path d="M227.5,915.0 L227.6,911.2 L227.8,907.1 L227.9,903.0 L228.1,898.9 L228.4,894.9 L228.6,891.0 L228.9,887.0 L229.2,882.9 L229.5,878.9 L229.8,875.0 L230.1,871.1 L230.5,867.0 L230.9,863.0 L231.3,859.0 L231.8,855.1 L232.3,851.1 L232.7,847.1 L233.2,843.1 L233.8,839.1 L234.3,835.0 L234.9,831.0 L235.5,827.1 L236.1,823.1 L236.7,819.0 L237.4,815.1 L238.0,811.2 L238.7,807.2 L239.4,803.3 L240.1,799.5 L240.9,795.6 L241.6,791.6 L242.4,787.7 L243.2,783.8 L244.0,779.9 L244.9,776.0 L245.7,772.1 L246.6,768.2 L247.5,764.2 L248.4,760.2 L249.3,756.4 L250.2,752.5 L251.1,748.6 L252.1,744.6 L253.1,740.6 L254.1,736.7 L255.1,732.8 L256.1,729.1 L257.1,725.3 L258.1,721.4 L259.2,717.6 L260.3,713.8 L261.3,709.9 L262.4,706.0 L263.5,702.1 L264.6,698.2 L265.8,694.4 L266.9,690.5 L268.0,686.6 L269.2,682.8 L270.4,679.0 L271.5,675.2 L272.7,671.3 L273.9,667.5 L275.1,663.7 L276.3,659.8 L277.5,656.0 L278.8,652.3 L280.0,648.4 L281.3,644.6 L282.6,640.9 L284.0,637.1 L285.4,633.3 L286.8,629.6 L288.2,626.0 L289.7,622.2 L291.3,618.4 L292.9,614.7 L294.6,611.1 L296.3,607.4 L298.1,603.8 L299.9,600.3 L301.8,596.7 L303.8,593.3 L305.9,589.9 L308.0,586.4 L310.3,583.0 L312.6,579.7 L315.0,576.7 L317.5,573.7 L320.1,570.6 L322.7,567.4 L325.5,564.4 L328.3,561.8 L331.3,559.2 L334.3,556.4 L337.4,553.8 L340.6,551.4 L343.8,549.0 L347.1,546.7 L350.5,544.6 L354.0,542.6 L357.5,540.8 L361.1,539.0 L364.8,537.2 L368.5,535.7 L372.3,534.4 L376.1,533.3 L380.0,532.1 L383.9,531.2 L387.8,530.6 L391.8,530.1 L395.8,529.7 L399.8,529.4 L403.8,529.2 L407.8,529.4 L411.8,529.9 L415.8,530.5 L419.7,530.8 L423.7,531.5 L427.6,532.3 L431.5,533.1 L435.4,534.1 L439.3,535.1 L443.2,536.3 L447.0,537.5 L450.9,538.6 L454.7,539.7 L458.6,540.8 L462.4,541.6 L466.3,542.3 L470.1,543.5 L474.0,545.1 L477.9,546.2 L481.8,547.3 L485.6,548.6 L489.5,549.8 L493.4,550.7 L497.3,551.4 L501.2,551.9 L505.1,552.5 L509.0,553.3 L512.9,554.3 L516.8,555.1 L520.7,556.2 L524.6,557.5 L528.5,558.5 L532.4,559.1 L536.3,559.7 L540.2,561.1 L544.1,562.6 L548.0,563.8 L551.9,564.5 L555.8,564.9 L559.7,566.0 L563.6,567.6 L567.5,568.6 L571.5,569.7 L575.4,570.3 L579.3,570.3 L583.2,571.0 L587.2,572.0 L591.1,572.8 L595.1,573.4 L599.0,573.9 L603.0,574.2 L607.0,574.4 L611.0,575.0 L614.9,575.6 L618.9,576.2 L622.9,576.7 L626.9,577.4 L630.9,577.8 L634.9,578.0 L638.9,578.1 L642.9,578.2 L646.9,578.2 L650.9,578.3 L654.9,578.4 L658.9,578.7 L663.0,578.9 L667.0,578.7 L671.0,578.5 L675.0,578.6 L679.0,578.3 L683.0,578.0 L687.0,578.0 L691.0,578.0 L695.0,577.9 L699.0,577.4 L703.0,576.9 L707.0,577.0 L711.0,577.3 L715.0,576.7 L719.0,576.0 L723.0,575.6 L727.0,575.5 L731.0,575.4 L735.0,574.8 L739.0,574.5 L743.0,574.1 L747.0,573.3 L750.9,573.2 L754.9,573.2 L758.9,572.7 L762.9,572.1 L766.9,571.7 L770.9,571.1 L774.8,570.4 L778.8,569.9 L782.8,569.3 L786.8,568.6 L790.7,568.2 L794.7,567.4 L798.7,566.7 L802.6,566.7 L806.6,566.8 L810.6,565.9 L814.6,565.0 L818.5,564.4 L822.5,563.7 L826.5,563.2 L830.5,562.4 L834.4,561.5 L838.4,561.3 L842.4,560.8 L846.4,560.2 L850.4,559.5 L854.4,559.0 L858.3,559.1 L862.3,559.5 L866.3,559.5 L870.3,558.9 L874.3,558.5 L878.3,557.6 L882.3,556.9 L886.3,557.2 L890.3,557.3 L894.3,557.0 L898.3,556.9 L902.4,556.8 L906.4,556.1 L910.4,555.7 L914.4,555.9 L918.4,555.9 L922.4,555.9 L926.4,556.3 L930.4,556.2 L934.4,555.6 L938.4,555.4 L942.4,555.4 L946.4,555.1 L950.4,554.6 L954.4,554.0 L958.4,553.9 L962.4,553.9 L966.3,552.9 L970.3,551.9 L974.3,551.5 L978.2,551.1 L982.2,550.0 L986.1,549.0 L990.0,548.3 L993.9,547.1 L997.8,546.1 L1001.7,545.1 L1005.6,544.0 L1009.4,543.4 L1013.3,542.2 L1017.2,540.7 L1021.0,539.8 L1024.9,538.4 L1028.7,536.8 L1032.6,536.0 L1036.4,535.4 L1040.3,534.5 L1044.1,533.3 L1048.0,532.2 L1051.8,531.1 L1055.7,530.1 L1059.6,529.1 L1063.4,528.0 L1067.3,526.8 L1071.1,525.6 L1075.0,524.2 L1078.8,523.2 L1082.7,522.3 L1086.5,521.0 L1090.3,519.6 L1094.1,518.3 L1097.8,516.9 L1101.6,515.4 L1105.3,513.9 L1109.0,512.3 L1112.6,510.7 L1116.3,509.1 L1119.9,507.3 L1123.5,505.4 L1127.1,503.7 L1130.6,501.9 L1134.2,500.0 L1137.7,498.0 L1141.2,496.3 L1144.7,494.4 L1148.2,492.2 L1151.6,490.1 L1155.0,488.0 L1158.5,485.9 L1161.9,483.6 L1165.2,481.5 L1168.6,479.5 L1172.0,477.4 L1175.4,475.3 L1178.7,473.0 L1182.1,470.9 L1185.4,468.8 L1188.8,466.4 L1192.1,464.0 L1195.4,461.9 L1198.8,459.7 L1202.1,457.5 L1205.4,455.2 L1208.7,452.9 L1212.0,450.7 L1215.3,448.6 L1218.6,446.2 L1221.9,443.6 L1225.2,441.3 L1228.5,439.1 L1231.8,436.9 L1235.0,434.7 L1238.3,432.4 L1241.6,430.1 L1244.8,427.7 L1248.1,425.3 L1251.3,422.9 L1254.6,420.6 L1257.8,418.3 L1261.0,415.8 L1264.2,413.4 L1267.4,411.1 L1270.7,408.6 L1273.9,406.1 L1277.1,403.6 L1280.3,401.2 L1283.4,398.7 L1286.6,396.2 L1289.8,394.0 L1293.0,391.6 L1296.1,389.1 L1299.3,386.7 L1302.4,384.2 L1305.6,381.5 L1308.7,378.9 L1311.8,376.5 L1314.9,374.2 L1318.1,371.8 L1321.2,369.3 L1324.3,366.6 L1327.4,363.8 L1330.5,361.1 L1333.5,358.7 L1336.6,356.3 L1339.7,353.7 L1342.7,351.1 L1345.8,348.4 L1348.8,345.7 L1351.9,343.1 L1354.9,340.6 L1357.9,337.9 L1360.9,335.3 L1363.9,332.6 L1366.9,330.0 L1369.9,327.3 L1372.9,324.7 L1375.9,322.0 L1378.8,319.2 L1381.8,316.5 L1384.7,313.9 L1387.7,311.2 L1390.6,308.4 L1393.6,305.7 L1396.5,302.8 L1399.4,300.0 L1402.3,297.3 L1405.2,294.6 L1408.1,291.8 L1411.0,289.0 L1413.9,286.2 L1416.8,283.5 L1419.7,280.7 L1422.6,277.8 L1425.4,275.0 L1428.3,272.3 L1431.2,269.5 L1434.0,266.7 L1436.9,264.0 L1439.7,261.2 L1442.6,258.3 L1445.4,255.5 L1448.3,252.6 L1451.1,249.7 L1453.9,246.9 L1456.8,244.0 L1459.6,241.1 L1462.4,238.3 L1465.2,235.5 L1468.1,232.7 L1470.9,229.8 L1473.7,227.0 L1476.5,224.3 L1479.3,221.5 L1482.2,218.6 L1485.0,215.7 L1487.8,212.7 L1490.6,209.8 L1493.4,207.0 L1496.2,204.2 L1499.0,201.3 L1501.9,198.3 L1504.7,195.4 L1507.5,192.6 L1510.3,189.8 L1513.1,186.8 L1515.9,184.0 L1518.7,181.2 L1521.6,178.4 L1524.4,175.5 L1527.2,172.8 L1530.0,170.0 L1532.9,167.1 L1535.7,164.3 L1538.5,161.4 L1541.4,158.5 L1544.2,155.7" stroke="#c4821a" stroke-width="8"/>
</g></g>
<g filter="url(#bm)" stroke="none">
<rect x="642.0" y="128.2" width="18" height="18" fill="#1a2a2a"/>
<circle cx="651" cy="192.8" r="10.0" fill="#e8000f"/>
<polygon points="640.0,256.8 662.0,256.8 651,237.0" fill="#0f49ac"/>
<polygon points="640.0,297.2 662.0,297.2 651,317.0" fill="#0c9c48"/>
<polygon points="639.5,361 651,349.5 662.5,361 651,372.5" fill="#9a4fba"/>
<polygon points="657.9,406.8 657.9,427.8 639.0,417.3" fill="#c58316"/>
</g>
<g filter="url(#bt)">
<text class="b" transform="translate(107,1008) rotate(-90) scale(1,1.035)" font-size="106" text-anchor="start" dx="0 0 0 0 0 0 0 0 0 0 0 0 0 0 0 0 0 -4">Tensile stress/MPa</text>
<text class="b" transform="translate(748,1197)" font-size="95" text-anchor="start">Strain/%</text>
<text transform="translate(222.4,1080)" font-size="80" text-anchor="middle" stroke="#000" stroke-width="1.2">0</text>
<text transform="translate(575,1080)" font-size="80" text-anchor="middle" stroke="#000" stroke-width="1.2">100</text>
<text transform="translate(928.6,1080)" font-size="80" text-anchor="middle" stroke="#000" stroke-width="1.2">200</text>
<text transform="translate(1283,1080)" font-size="80" text-anchor="middle" stroke="#000" stroke-width="1.2">300</text>
<text transform="translate(1639,1080)" font-size="80" text-anchor="middle" stroke="#000" stroke-width="1.2">400</text>
<text transform="translate(186,167)" font-size="80" text-anchor="middle" stroke="#000" stroke-width="1.2">8</text>
<text transform="translate(186,362.5)" font-size="80" text-anchor="middle" stroke="#000" stroke-width="1.2">6</text>
<text transform="translate(186,554)" font-size="80" text-anchor="middle" stroke="#000" stroke-width="1.2">4</text>
<text transform="translate(186,748)" font-size="80" text-anchor="middle" stroke="#000" stroke-width="1.2">2</text>
<text transform="translate(186,944)" font-size="80" text-anchor="middle" stroke="#000" stroke-width="1.2">0</text>
<text transform="translate(681.8,158.3) scale(1.06,1)" font-size="72.5" text-anchor="start" letter-spacing="1.4" stroke="#000" stroke-width="1.6">2h</text>
<text transform="translate(681.8,213.3) scale(1.06,1)" font-size="72.5" text-anchor="start" letter-spacing="1.4" stroke="#000" stroke-width="1.6">4h</text>
<text transform="translate(681.8,272.3) scale(1.06,1)" font-size="72.5" text-anchor="start" letter-spacing="1.4" stroke="#000" stroke-width="1.6">6h</text>
<text transform="translate(680.5,330.7) scale(1.06,1)" font-size="72.5" text-anchor="start" letter-spacing="1.4" stroke="#000" stroke-width="1.6">12h</text>
<text transform="translate(680.5,387.2) scale(1.06,1)" font-size="72.5" text-anchor="start" letter-spacing="1.4" stroke="#000" stroke-width="1.6">18h</text>
<text transform="translate(680.5,443.8) scale(1.06,1)" font-size="72.5" text-anchor="start" letter-spacing="1.4" stroke="#000" stroke-width="1.6">24h</text>
</g>
</svg>
</body>
</html>
